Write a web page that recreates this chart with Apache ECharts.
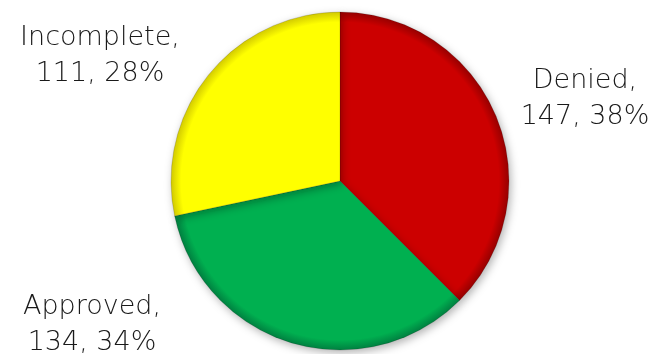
<!DOCTYPE html>
<html>
<head>
<meta charset="utf-8">
<script src="https://cdn.jsdelivr.net/npm/echarts@6/dist/echarts.min.js"></script>
<style>
  html, body { margin: 0; padding: 0; background: #fff; }
  #chart { width: 648px; height: 354px; }
</style>
</head>
<body>
<div id="chart"></div>
<script>
// Application outcomes
const categories = ['Denied', 'Approved', 'Incomplete'];
const counts = [147, 134, 111];
const colors = ['#CC0000', '#00B050', '#FFFF00'];
const edgeColors = ['#960000', '#008040', '#D2CA00'];

// Label anchor points (centre of each two-line label)
const labelSpots = [
  { x: 585, y: 99 },
  { x: 92, y: 325 },
  { x: 100, y: 56 }
];

const CX = 340, CY = 181, R = 169;

// Slight bevel: base colour across the face, darker toward the rim
function bevel(i) {
  return {
    type: 'radial', x: CX, y: CY, r: R, global: true,
    colorStops: [
      { offset: 0, color: colors[i] },
      { offset: 0.94, color: colors[i] },
      { offset: 1, color: edgeColors[i] }
    ]
  };
}

const chart = echarts.init(document.getElementById('chart'), null, { renderer: 'canvas' });

chart.setOption({
  animation: false,
  series: [{
    type: 'pie',
    center: [CX, CY],
    radius: [0, R],
    startAngle: 90,
    clockwise: true,
    percentPrecision: 0,
    data: categories.map((name, i) => ({
      name,
      value: counts[i],
      itemStyle: { color: bevel(i) }
    })),
    itemStyle: {
      borderColor: 'rgba(0,0,0,0.15)',
      borderWidth: 1,
      shadowBlur: 8,
      shadowOffsetX: 2,
      shadowOffsetY: 3,
      shadowColor: 'rgba(0,0,0,0.3)'
    },
    label: {
      show: true,
      position: 'outside',
      formatter: '{b},\n{c}, {d}%',
      fontFamily: 'DejaVu Sans',
      fontWeight: 300,
      fontSize: 27,
      lineHeight: 36,
      color: '#1a1a1a',
      align: 'center',
      overflow: 'none'
    },
    labelLine: { show: false },
    labelLayout: function (params) {
      const p = labelSpots[params.dataIndex];
      return { x: p.x, y: p.y, align: 'center', verticalAlign: 'middle' };
    }
  }]
});
</script>
</body>
</html>
